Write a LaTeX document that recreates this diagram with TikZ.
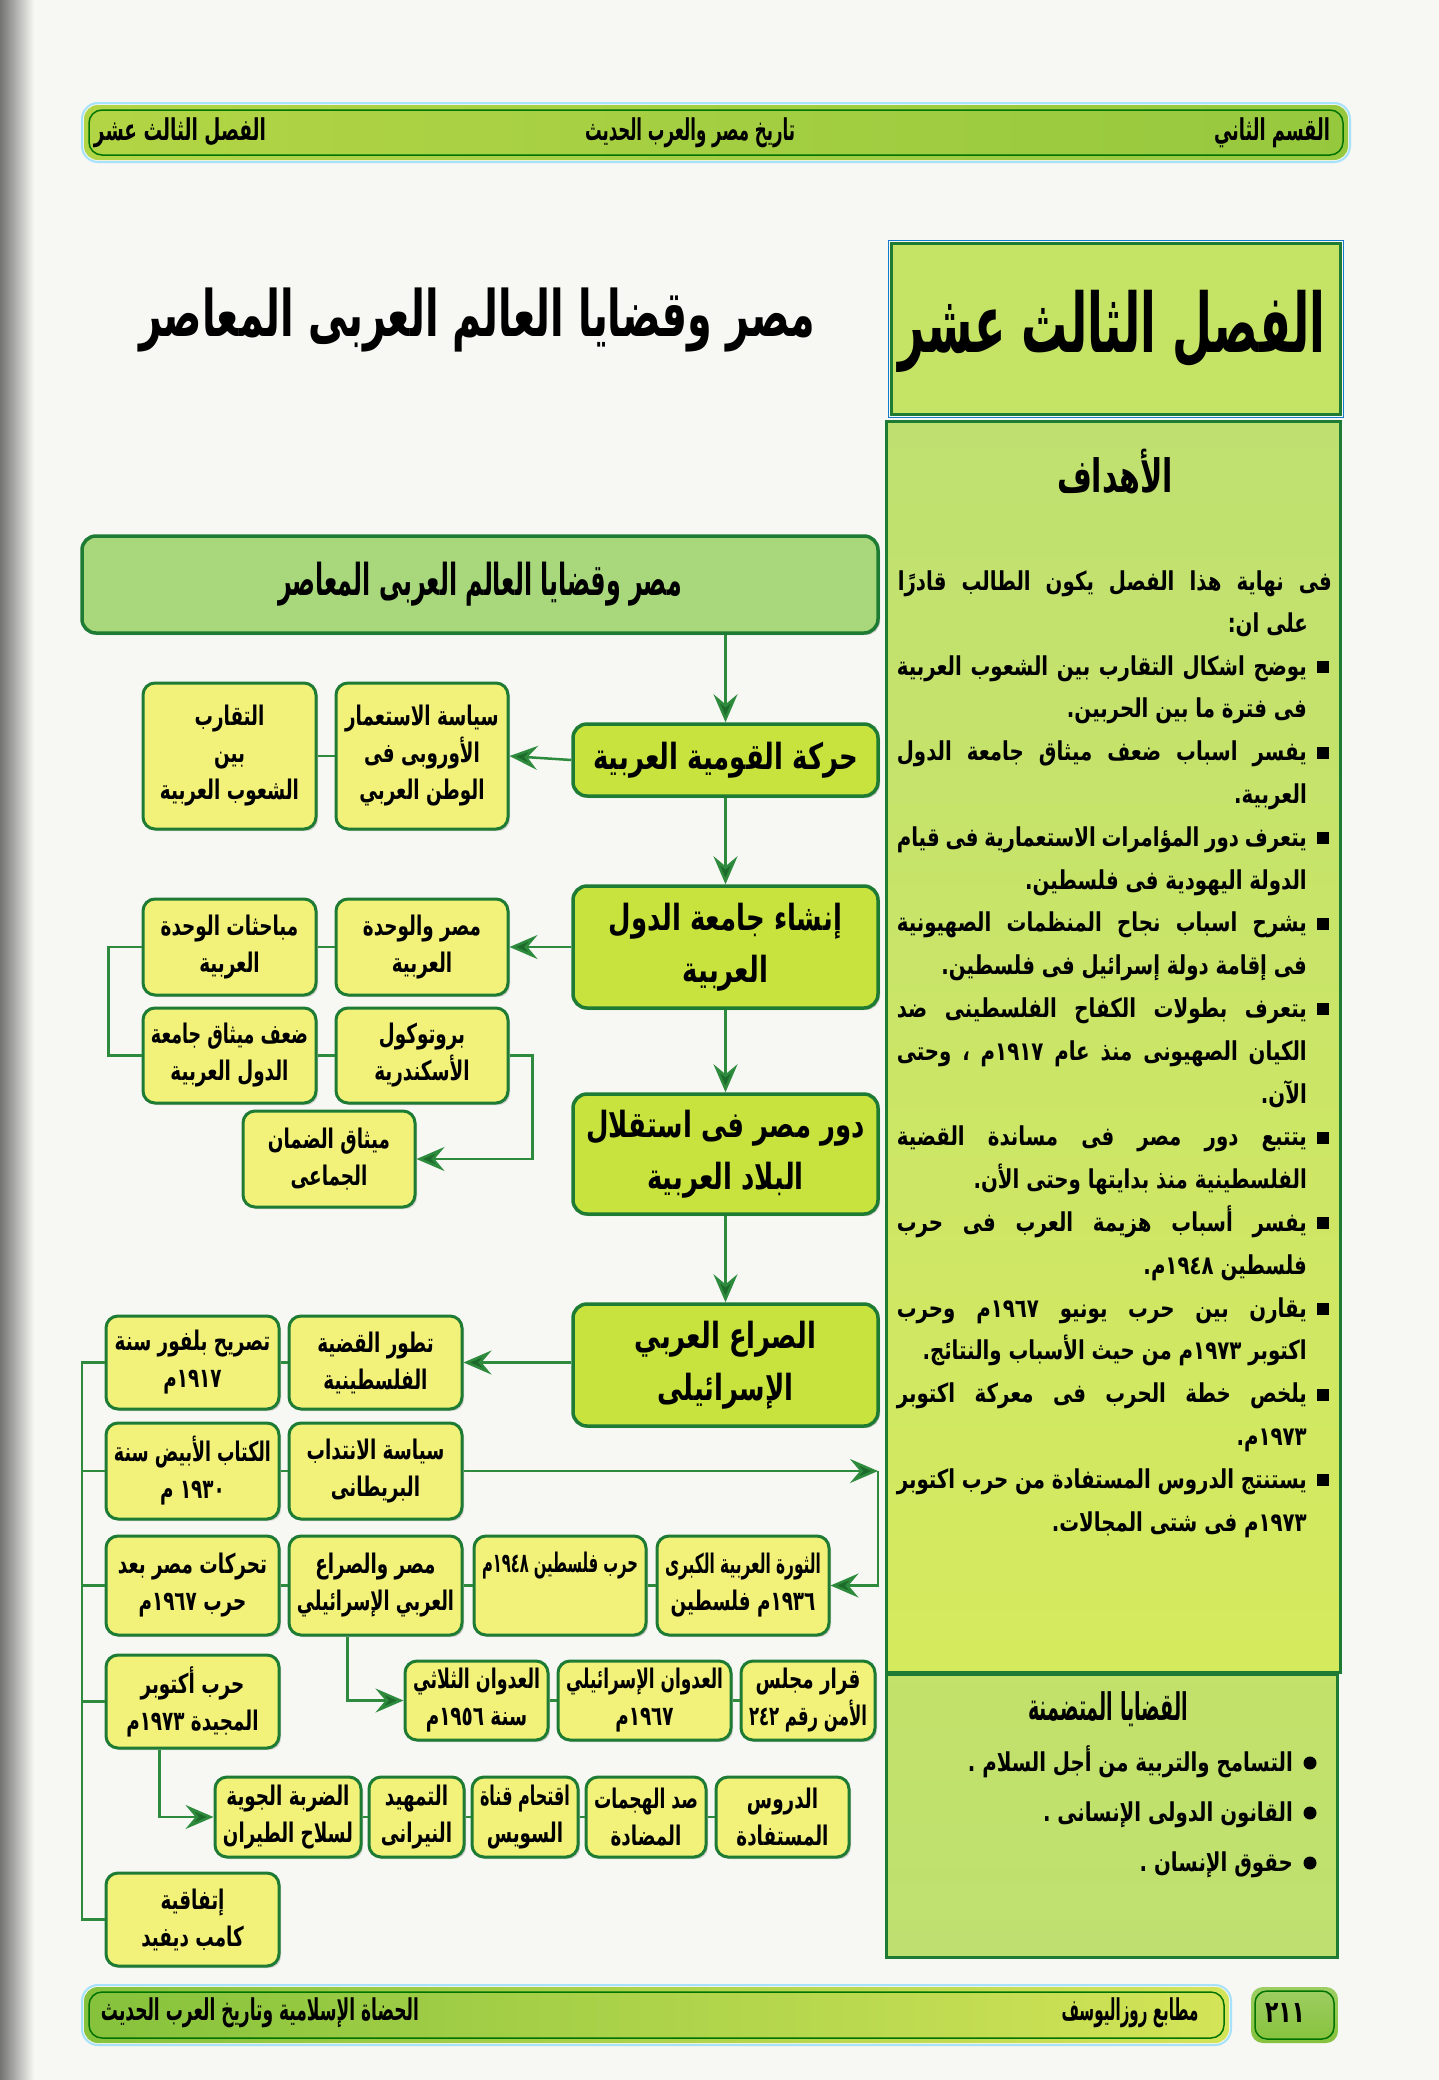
\documentclass[tikz,border=0pt]{standalone}
\usepackage{fontspec}
\usepackage{graphicx}
\usetikzlibrary{arrows.meta,shadows}
\TeXXeTstate=1
\newfontfamily\arc[Script=Arabic,FakeStretch=0.68]{DejaVu Sans}
\newfontfamily\arm[Script=Arabic,FakeStretch=0.72]{DejaVu Sans}
\newfontfamily\arn[Script=Arabic,FakeStretch=0.76]{DejaVu Sans}
\newfontfamily\arh[Script=Arabic]{DejaVu Sans}
\newcommand{\fitw}[2]{\resizebox{#1}{\height}{#2}}
\newcommand{\JL}[2]{\hbox to #1{\spaceskip=.2em plus 1fil\relax #2}}
\newcommand{\capw}[2]{\setbox0=\hbox{#2}\ifdim\wd0>#1\relax\resizebox{#1}{\height}{\box0}\else\box0\fi}
\newcommand{\bl}[1]{\capw{\fbc pt}{#1}}
\newcommand{\subfont}{\arc\bfseries\fontsize{27}{37}\selectfont}
\newcommand{\mainfont}{\arm\bfseries\fontsize{36}{52}\selectfont}
\newcommand{\objfont}{\arn\bfseries\fontsize{26}{30}\selectfont}
\newcommand{\flowbox}[7]{%
  \pgfmathsetmacro{\fbx}{(#3+#5)/2}%
  \pgfmathsetmacro{\fby}{(#4+#6)/2}%
  \pgfmathsetmacro{\fbw}{#5-#3}%
  \pgfmathsetmacro{\fbh}{#6-#4}%
  \pgfmathsetmacro{\fbc}{#5-#3-16}%
  \node[#1,minimum width=\fbw pt,minimum height=\fbh pt] (#2) at (\fbx,\fby) {#7};}
\definecolor{pagebg}{HTML}{F7F7F3}
\definecolor{boxg}{HTML}{1E7B34}
\definecolor{lineg}{HTML}{2E8B3E}
\definecolor{tipg}{HTML}{1D6B2A}
\definecolor{subfill}{HTML}{F2F27A}
\definecolor{mainfill}{HTML}{C8E23E}
\definecolor{topfill}{HTML}{A8D87B}
\definecolor{panelA}{HTML}{BFE070}
\definecolor{panelB}{HTML}{D6EA5E}
\definecolor{hdrL}{HTML}{B2D545}
\definecolor{hdrM}{HTML}{C3DC4C}
\definecolor{hdrR}{HTML}{96C83E}
\definecolor{ftrL}{HTML}{86C23C}
\definecolor{ftrR}{HTML}{D4E458}
\tikzset{
 subbox/.style={draw=boxg, line width=3pt, rounded corners=12pt, fill=subfill, align=center, inner sep=2pt, font=\subfont, drop shadow={shadow xshift=2pt,shadow yshift=-2pt,opacity=.35}},
 mainbox/.style={subbox, fill=mainfill, line width=3.5pt, rounded corners=14pt, font=\mainfont},
 topbox/.style={mainbox, fill=topfill, font=\arh\bfseries\fontsize{44}{50}\selectfont},
 conn/.style={draw=lineg, line width=2.5pt},
 arr/.style={conn, -{Stealth[length=28pt,width=24pt,inset=10pt,fill=tipg]}},
 objtxt/.style={anchor=base east, inner sep=0, font=\objfont},
 hdrtxt/.style={inner sep=0, font=\arh\bfseries\fontsize{30}{34}\selectfont},
}
\begin{document}
\begin{tikzpicture}[x=1pt,y=-1pt]
\useasboundingbox (0,0) rectangle (1439,2080);
\fill[pagebg] (0,0) rectangle (1439,2080);
\shade[left color=black!55, right color=pagebg] (0,0) rectangle (34,2080);

% header bar
\shade[rounded corners=14pt, left color=hdrL, middle color=hdrM, right color=hdrR] (84,105) rectangle (1348,160);
\draw[rounded corners=13pt, line width=1.5pt, draw=green!45!black] (89,110) rectangle (1343,155);
\draw[rounded corners=16pt, line width=2pt, draw=cyan!35!white] (82,103) rectangle (1350,162);
\node[hdrtxt] (hR) at (1272,133) {\fitw{116pt}{\beginR القسم الثاني\endR}};
\node[hdrtxt] (hC) at (690,133) {\fitw{210pt}{\beginR تاريخ مصر والعرب الحديث\endR}};
\node[hdrtxt] (hL) at (180,133) {\fitw{172pt}{\beginR الفصل الثالث عشر\endR}};

% chapter title box
\fill[panelA!90!yellow] (891,243) rectangle (1340,414);
\draw[line width=3pt, draw=boxg] (891,243) rectangle (1340,414);
\draw[line width=1pt, draw=cyan!60!blue] (888,240) rectangle (1343,417);
\node[anchor=base, inner sep=0, font=\arh\bfseries\fontsize{82}{86}\selectfont] (ttl) at (1112,352) {\fitw{427pt}{\beginR الفصل الثالث عشر\endR}};

% left title
\node[anchor=base, inner sep=0, font=\arh\bfseries\fontsize{64}{68}\selectfont] (ltitle) at (477,336) {\fitw{676pt}{\beginR مصر وقضايا العالم العربى المعاصر\endR}};

% objectives panel
\shade[top color=panelA, bottom color=panelB] (886,421) rectangle (1340,1672);
\draw[line width=3pt, draw=boxg] (886,421) rectangle (1340,1672);
\shade[top color=panelA!95!yellow, bottom color=panelA] (886,1674) rectangle (1337,1957);
\draw[line width=3pt, draw=boxg] (886,1674) rectangle (1337,1957);

\node[anchor=base, inner sep=0, font=\arh\bfseries\fontsize{46}{50}\selectfont] (obj) at (1115,492) {\fitw{116pt}{\beginR الأهداف\endR}};
\node[objtxt] (i1) at (1332,590) {\JL{434pt}{\beginR فى نهاية هذا الفصل يكون الطالب قادرًا\endR}};
\node[objtxt] (i2) at (1308,632) {\beginR على ان:\endR};

\foreach \yy in {667,752.6,838.2,923.8,1009.4,1137.8,1223.4,1309,1394.6,1480.2}
  \fill (1317,\yy-6) rectangle (1329,\yy+6);

\node[objtxt] (o0) at (1307,675) {\JL{410pt}{\beginR يوضح اشكال التقارب بين الشعوب العربية\endR}};
\node[objtxt] (o1) at (1307,717.8) {\beginR فى فترة ما بين الحربين.\endR};
\node[objtxt] (o2) at (1307,760.6) {\JL{410pt}{\beginR يفسر اسباب ضعف ميثاق جامعة الدول\endR}};
\node[objtxt] (o3) at (1307,803.4) {\beginR العربية.\endR};
\node[objtxt] (o4) at (1307,846.2) {\JL{410pt}{\beginR يتعرف دور المؤامرات الاستعمارية فى قيام\endR}};
\node[objtxt] (o5) at (1307,889) {\beginR الدولة اليهودية فى فلسطين.\endR};
\node[objtxt] (o6) at (1307,931.8) {\JL{410pt}{\beginR يشرح اسباب نجاح المنظمات الصهيونية\endR}};
\node[objtxt] (o7) at (1307,974.6) {\beginR فى إقامة دولة إسرائيل فى فلسطين.\endR};
\node[objtxt] (o8) at (1307,1017.4) {\JL{410pt}{\beginR يتعرف بطولات الكفاح الفلسطينى ضد\endR}};
\node[objtxt] (o9) at (1307,1060.2) {\JL{410pt}{\beginR الكيان الصهيونى منذ عام ١٩١٧م ، وحتى\endR}};
\node[objtxt] (o10) at (1307,1103) {\beginR الآن.\endR};
\node[objtxt] (o11) at (1307,1145.8) {\JL{410pt}{\beginR يتتبع دور مصر فى مساندة القضية\endR}};
\node[objtxt] (o12) at (1307,1188.6) {\beginR الفلسطينية منذ بدايتها وحتى الأن.\endR};
\node[objtxt] (o13) at (1307,1231.4) {\JL{410pt}{\beginR يفسر أسباب هزيمة العرب فى حرب\endR}};
\node[objtxt] (o14) at (1307,1274.2) {\beginR فلسطين ١٩٤٨م.\endR};
\node[objtxt] (o15) at (1307,1317) {\JL{410pt}{\beginR يقارن بين حرب يونيو ١٩٦٧م وحرب\endR}};
\node[objtxt] (o16) at (1307,1359.8) {\beginR اكتوبر ١٩٧٣م من حيث الأسباب والنتائج.\endR};
\node[objtxt] (o17) at (1307,1402.6) {\JL{410pt}{\beginR يلخص خطة الحرب فى معركة اكتوبر\endR}};
\node[objtxt] (o18) at (1307,1445.4) {\beginR ١٩٧٣م.\endR};
\node[objtxt] (o19) at (1307,1488.2) {\JL{410pt}{\beginR يستنتج الدروس المستفادة من حرب اكتوبر\endR}};
\node[objtxt] (o20) at (1307,1531) {\beginR ١٩٧٣م فى شتى المجالات.\endR};

\node[anchor=base, inner sep=0, font=\arh\bfseries\fontsize{38}{42}\selectfont] (topics) at (1108,1720) {\fitw{160pt}{\beginR القضايا المتضمنة\endR}};
\foreach \yy in {1763,1813,1863} \fill (1310,\yy) circle (6.5);
\node[objtxt] (t1) at (1293,1771) {\beginR التسامح والتربية من أجل السلام .\endR};
\node[objtxt] (t2) at (1293,1821) {\beginR القانون الدولى الإنسانى .\endR};
\node[objtxt] (t3) at (1293,1871) {\beginR حقوق الإنسان .\endR};

% flowchart boxes
\flowbox{topbox}{B0}{82}{536}{878}{633}{\fitw{404pt}{\beginR مصر وقضايا العالم العربى المعاصر\endR}}
\flowbox{mainbox}{B1}{573}{724}{878}{796}{\bl{\beginR حركة القومية العربية\endR}}
\flowbox{subbox}{A1}{336}{683}{508}{829}{\bl{\beginR سياسة الاستعمار\endR}\\\bl{\beginR الأوروبى فى\endR}\\\bl{\beginR الوطن العربي\endR}}
\flowbox{subbox}{A2}{143}{683}{316}{829}{\bl{\beginR التقارب\endR}\\\bl{\beginR بين\endR}\\\bl{\beginR الشعوب العربية\endR}}
\flowbox{mainbox}{B2}{573}{886}{878}{1008}{\bl{\beginR إنشاء جامعة الدول\endR}\\\bl{\beginR العربية\endR}}
\flowbox{subbox}{C1}{336}{899}{508}{995}{\bl{\beginR مصر والوحدة\endR}\\\bl{\beginR العربية\endR}}
\flowbox{subbox}{C2}{143}{899}{316}{995}{\bl{\beginR مباحثات الوحدة\endR}\\\bl{\beginR العربية\endR}}
\flowbox{subbox}{C3}{336}{1008}{508}{1103}{\bl{\beginR بروتوكول\endR}\\\bl{\beginR الأسكندرية\endR}}
\flowbox{subbox}{C4}{143}{1008}{316}{1103}{\bl{\beginR ضعف ميثاق جامعة\endR}\\\bl{\beginR الدول العربية\endR}}
\flowbox{subbox}{C5}{243}{1111}{415}{1207}{\bl{\beginR ميثاق الضمان\endR}\\\bl{\beginR الجماعى\endR}}
\flowbox{mainbox}{B3}{573}{1094}{878}{1214}{\bl{\beginR دور مصر فى استقلال\endR}\\\bl{\beginR البلاد العربية\endR}}
\flowbox{mainbox}{B4}{573}{1304}{878}{1426}{\bl{\beginR الصراع العربي\endR}\\\bl{\beginR الإسرائيلى\endR}}
\flowbox{subbox}{D1}{289}{1316}{462}{1409}{\bl{\beginR تطور القضية\endR}\\\bl{\beginR الفلسطينية\endR}}
\flowbox{subbox}{D2}{106}{1316}{279}{1409}{\bl{\beginR تصريح بلفور سنة\endR}\\\bl{\beginR ١٩١٧م\endR}}
\flowbox{subbox}{D3}{289}{1423}{462}{1519}{\bl{\beginR سياسة الانتداب\endR}\\\bl{\beginR البريطانى\endR}}
\flowbox{subbox}{D4}{106}{1423}{279}{1519}{\bl{\beginR الكتاب الأبيض سنة\endR}\\\bl{\beginR ١٩٣٠ م\endR}}
\flowbox{subbox}{E1}{657}{1536}{829}{1635}{\bl{\beginR الثورة العربية الكبرى\endR}\\\bl{\beginR ١٩٣٦م فلسطين\endR}}
\flowbox{subbox,text height=22pt,text depth=48pt}{E2}{474}{1536}{646}{1635}{\bl{\beginR حرب فلسطين ١٩٤٨م\endR}}
\flowbox{subbox}{E3}{289}{1536}{462}{1635}{\bl{\beginR مصر والصراع\endR}\\\bl{\beginR العربي الإسرائيلي\endR}}
\flowbox{subbox}{E4}{106}{1536}{279}{1635}{\bl{\beginR تحركات مصر بعد\endR}\\\bl{\beginR حرب ١٩٦٧م\endR}}
\flowbox{subbox}{F1}{741}{1661}{875}{1740}{\bl{\beginR قرار مجلس\endR}\\\bl{\beginR الأمن رقم ٢٤٢\endR}}
\flowbox{subbox}{F2}{558}{1661}{731}{1740}{\bl{\beginR العدوان الإسرائيلي\endR}\\\bl{\beginR ١٩٦٧م\endR}}
\flowbox{subbox}{F3}{405}{1661}{548}{1740}{\bl{\beginR العدوان الثلاثي\endR}\\\bl{\beginR سنة ١٩٥٦م\endR}}
\flowbox{subbox}{G}{106}{1655}{279}{1748}{\bl{\beginR حرب أكتوبر\endR}\\\bl{\beginR المجيدة ١٩٧٣م\endR}}
\flowbox{subbox}{H1}{215}{1777}{361}{1857}{\bl{\beginR الضربة الجوية\endR}\\\bl{\beginR لسلاح الطيران\endR}}
\flowbox{subbox}{H2}{369}{1777}{464}{1857}{\bl{\beginR التمهيد\endR}\\\bl{\beginR النيرانى\endR}}
\flowbox{subbox}{H3}{472}{1777}{578}{1857}{\bl{\beginR اقتحام قناة\endR}\\\bl{\beginR السويس\endR}}
\flowbox{subbox}{H4}{586}{1777}{706}{1857}{\bl{\beginR صد الهجمات\endR}\\\bl{\beginR المضادة\endR}}
\flowbox{subbox}{H5}{716}{1777}{849}{1857}{\bl{\beginR الدروس\endR}\\\bl{\beginR المستفادة\endR}}
\flowbox{subbox}{I}{106}{1873}{279}{1966}{\bl{\beginR إتفاقية\endR}\\\bl{\beginR كامب ديفيد\endR}}

% connectors
\draw[arr] (B1.north |- B0.south) -- (B1.north);
\draw[arr] (B1.west) -- (A1.east);
\draw[conn] (A1.west) -- (A2.east);
\draw[arr] (B1.south) -- (B2.north);
\draw[arr] (B2.west) -- (C1.east);
\draw[conn] (C1.west) -- (C2.east);
\draw[conn] (C3.west) -- (C4.east);
\draw[conn] (C2.west) -- ++(-33,0) |- (C4.west);
\draw[arr] (C3.east) -- ++(23,0) |- (C5.east);
\draw[arr] (B2.south) -- (B3.north);
\draw[arr] (B3.south) -- (B4.north);
\draw[arr] (D1.east -| B4.west) -- (D1.east);
\draw[conn] (D1.west) -- (D2.east);
\draw[conn] (D3.west) -- (D4.east);
\coordinate (turn) at (878,1471);
\draw[arr] (D3.east) -- (turn);
\draw[arr] (turn) |- (E1.east);
\draw[conn] (E1.west) -- (E2.east);
\draw[conn] (E2.west) -- (E3.east);
\draw[conn] (E3.west) -- (E4.east);
\draw[arr] ([xshift=-28pt]E3.south) |- (F3.west);
\draw[conn] (F1.west) -- (F2.east);
\draw[conn] (F2.west) -- (F3.east);
\draw[arr] ([xshift=-33pt]G.south) |- (H1.west);
\draw[conn] (H5.west) -- (H4.east);
\draw[conn] (H4.west) -- (H3.east);
\draw[conn] (H3.west) -- (H2.east);
\draw[conn] (H2.west) -- (H1.east);
\coordinate (bus) at (82,1362);
\draw[conn] (D2.west) -- (D2.west -| bus) -- (I.west -| bus) -- (I.west);
\draw[conn] (D4.west) -- (D4.west -| bus);
\draw[conn] (E4.west) -- (E4.west -| bus);
\draw[conn] (G.west) -- (G.west -| bus);

% footer
\shade[rounded corners=14pt, left color=ftrL, right color=ftrR] (84,1987) rectangle (1229,2043);
\draw[rounded corners=13pt, line width=1.5pt, draw=green!45!black] (89,1992) rectangle (1224,2038);
\draw[rounded corners=16pt, line width=2pt, draw=cyan!35!white] (82,1985) rectangle (1231,2045);
\shade[rounded corners=12pt, top color=ftrL!80!white, bottom color=ftrL] (1251,1987) rectangle (1338,2043);
\draw[rounded corners=12pt, line width=1.5pt, draw=green!45!black] (1255,1991) rectangle (1334,2039);
\node[hdrtxt] (fL) at (260,2013) {\fitw{318pt}{\beginR الحضاة الإسلامية وتاريخ العرب الحديث\endR}};
\node[hdrtxt] (fC) at (1130,2013) {\fitw{137pt}{\beginR مطابع روزاليوسف\endR}};
\node[hdrtxt] (fN) at (1285,2013) {\fitw{40pt}{\beginR ٢١١\endR}};
\end{tikzpicture}
\end{document}
